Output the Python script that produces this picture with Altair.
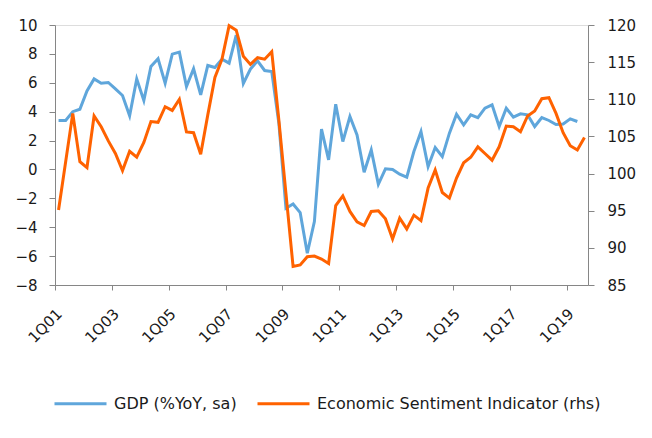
import altair as alt
import pandas as pd

# Quarterly categories 1Q01 .. 3Q19
quarters = [f"{q}Q{y:02d}" for y in range(1, 20) for q in range(1, 5)][:75]
tick_labels = ["1Q01", "1Q03", "1Q05", "1Q07", "1Q09", "1Q11", "1Q13", "1Q15", "1Q17", "1Q19"]

gdp = [3.39, 3.39, 4.0, 4.17, 5.44, 6.27, 5.97, 6.02, 5.58, 5.12,
       3.71, 6.27, 4.77, 7.13, 7.66, 5.97, 7.98, 8.12, 5.74, 6.97,
       5.16, 7.2, 7.06, 7.64, 7.36, 9.3, 5.95, 6.95, 7.52, 6.85,
       6.78, 3.2, -2.69, -2.39, -2.99, -5.8, -3.61, 2.79, 0.66, 4.52,
       1.93, 3.66, 2.39, -0.19, 1.35, -1.03, 0.04, 0.0, -0.33, -0.54,
       1.24, 2.62, 0.2, 1.52, 0.89, 2.51, 3.82, 3.09, 3.78, 3.59,
       4.24, 4.47, 2.97, 4.24, 3.62, 3.85, 3.78, 2.97, 3.59, 3.39,
       3.11, 3.15, 3.5, 3.32]

esi = [95.1, 101.6, 108.1, 101.6, 100.8, 107.75, 106.3, 104.4, 102.7, 100.4,
       103.0, 102.2, 104.2, 107.0, 106.9, 109.0, 108.5, 110.0, 105.6, 105.5,
       102.6, 107.9, 112.95, 115.4, 119.9, 119.3, 115.8, 114.7, 115.6, 115.4,
       116.4, 107.2, 97.3, 87.5, 87.7, 88.8, 88.9, 88.5, 87.9, 95.7,
       97.0, 94.9, 93.5, 93.0, 94.9, 95.0, 93.9, 91.2, 94.0, 92.55,
       94.4, 93.66, 98.05, 100.48, 97.45, 96.7, 99.4, 101.45, 102.2, 103.6,
       102.7, 101.8, 103.6, 106.4, 106.3, 105.64, 107.75, 108.42, 110.08, 110.21,
       108.1, 105.5, 103.75, 103.17, 104.87]

series_names = ["GDP (%YoY, sa)", "Economic Sentiment Indicator (rhs)"]
series_colors = ["#5FA6DB", "#FF6200"]

df_gdp = pd.DataFrame({"q": quarters[:len(gdp)], "v": gdp, "s": series_names[0]})
df_esi = pd.DataFrame({"q": quarters[:len(esi)], "v": esi, "s": series_names[1]})

W, H = 533, 260
step = W / len(quarters)
FONT = "DejaVu Sans"
TXT = "#1a1a1a"
AX = "#868686"

x_enc = alt.X(
    "q:O", sort=quarters,
    scale=alt.Scale(type="point", domain=quarters, padding=0.5),
    axis=alt.Axis(
        title=None, values=tick_labels, labelAngle=-45, labelAlign="right",
        labelBaseline="middle", tickOffset=-step / 2, labelOffset=4,
        tickSize=5, labelPadding=21, domainColor=AX, tickColor=AX,
        labelColor=TXT, labelFont=FONT, labelFontSize=15, labelOverlap=False,
        labelFlush=False, grid=False,
    ),
)

color_enc = alt.Color(
    "s:N",
    scale=alt.Scale(domain=series_names, range=series_colors),
    legend=alt.Legend(
        title=None, orient="none", direction="horizontal",
        legendX=-2, legendY=351, symbolType="stroke", symbolSize=2704,
        symbolStrokeWidth=3, labelFont=FONT, labelFontSize=16,
        labelColor=TXT, labelOffset=6, columnPadding=14, padding=0,
        labelLimit=0,
    ),
)

left = alt.Chart(df_gdp).mark_line(strokeWidth=3).encode(
    x=x_enc,
    y=alt.Y("v:Q", scale=alt.Scale(domain=[-8, 10], nice=False, zero=False),
            axis=alt.Axis(title=None, values=list(range(-8, 11, 2)), orient="left",
                          tickSize=6, labelPadding=12, domainColor=AX, tickColor=AX,
                          labelColor=TXT, labelFont=FONT, labelFontSize=15, grid=False)),
    color=color_enc,
)

right = alt.Chart(df_esi).mark_line(strokeWidth=3).encode(
    x=x_enc,
    y=alt.Y("v:Q", scale=alt.Scale(domain=[85, 120], nice=False, zero=False),
            axis=alt.Axis(title=None, values=list(range(85, 121, 5)), orient="right",
                          tickSize=6, labelPadding=13, domainColor=AX, tickColor=AX,
                          labelColor=TXT, labelFont=FONT, labelFontSize=15, grid=False)),
    color=color_enc,
)

chart = alt.layer(left, right).resolve_scale(y="independent").properties(
    width=W, height=H,
    autosize=alt.AutoSizeParams(type="none"),
    padding={"left": 47, "top": 17, "right": 56, "bottom": 145},
).configure_view(stroke=None).configure(background="white")

chart.save("out.html", embed_options={"renderer": "svg", "actions": False})
